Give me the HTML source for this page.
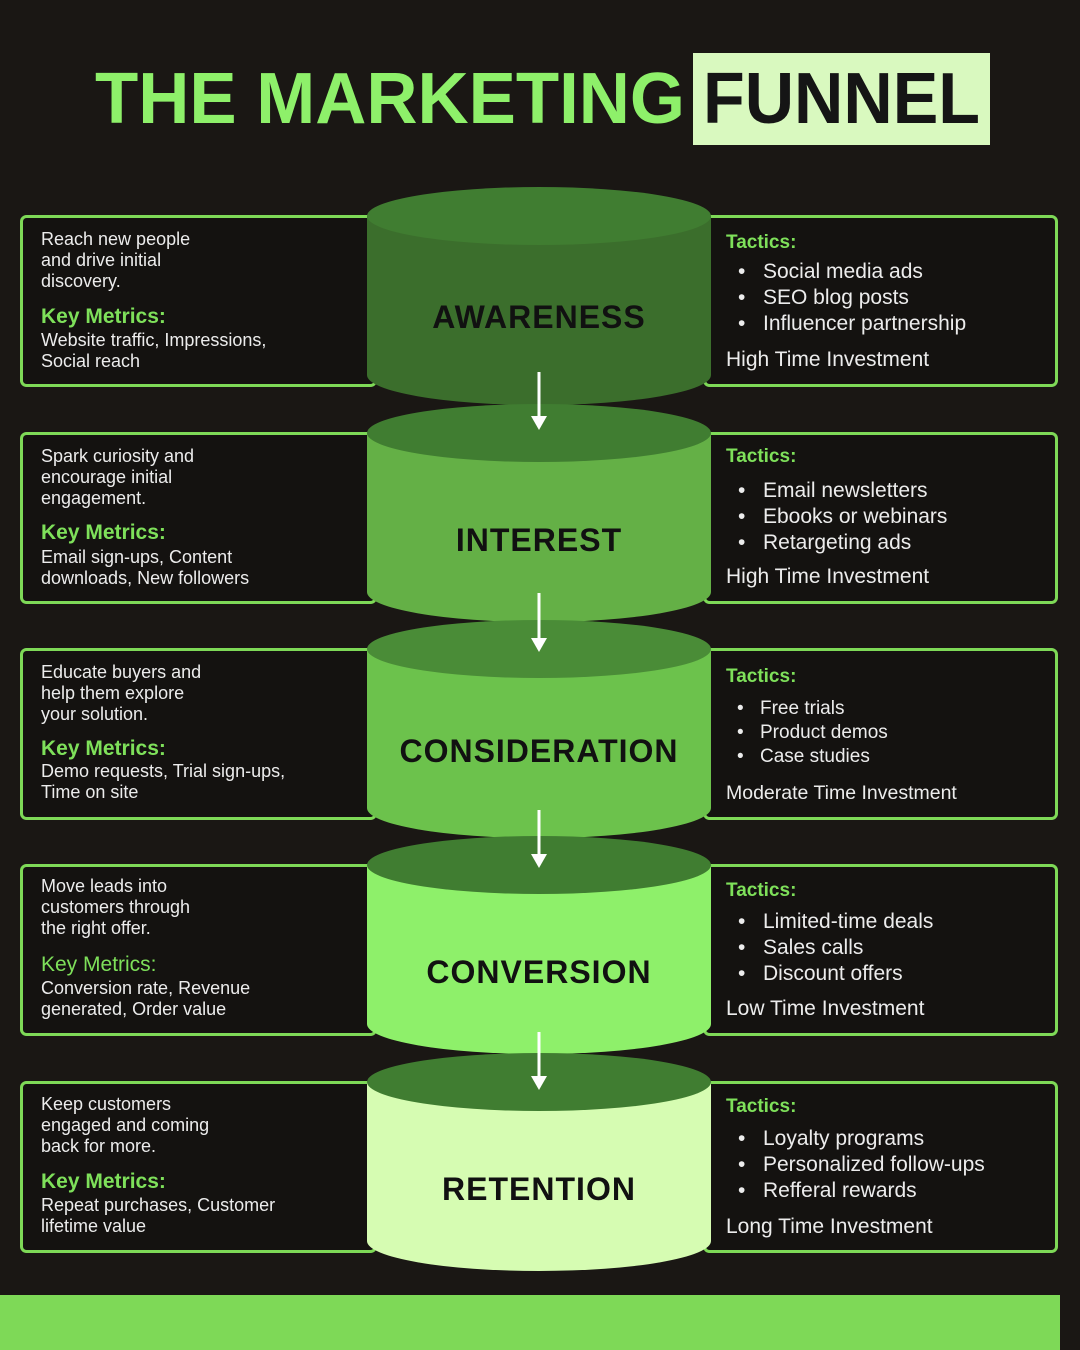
<!DOCTYPE html>
<html><head><meta charset="utf-8"><style>
html,body{margin:0;padding:0;background:#1a1714;}
svg{display:block}
text{font-family:"Liberation Sans",sans-serif}
.lt{fill:#ececec;font-size:18px}
.km{fill:#7ee05a;font-size:21px;font-weight:bold}
.tc{fill:#7ee05a;font-size:19px;font-weight:bold}
.rt{fill:#ececec;font-size:21px}
.lb{fill:#111;font-size:32px;font-weight:bold;letter-spacing:1px}
</style></head><body>
<svg width="1080" height="1350" viewBox="0 0 1080 1350" xmlns="http://www.w3.org/2000/svg">
<rect width="1080" height="1350" fill="#1a1714"/>
<text x="95" y="123" font-size="72" font-weight="bold" fill="#8ef06a" textLength="590" lengthAdjust="spacingAndGlyphs">THE MARKETING</text>
<rect x="693" y="53" width="297" height="92" fill="#d9f9bf"/>
<text x="703" y="123" font-size="72" font-weight="bold" fill="#151515" textLength="277" lengthAdjust="spacingAndGlyphs">FUNNEL</text>
<rect x="0" y="1295" width="1060" height="55" fill="#7ed957"/>

<!-- Stage 1 -->
<g transform="translate(0,0)">
<rect x="21.5" y="216.5" width="354" height="169" rx="5" fill="#141210" stroke="#7ed957" stroke-width="3"/>
<rect x="704.5" y="216.5" width="352" height="169" rx="5" fill="#141210" stroke="#7ed957" stroke-width="3"/>
<path d="M367,216 V375 A172,30 0 0 0 711,375 V216 Z" fill="#3b6e2c"/>
<ellipse cx="539" cy="216" rx="172" ry="29" fill="#407d31"/>
<text x="539" y="328" text-anchor="middle" class="lb">AWARENESS</text>
<text x="41" y="245" class="lt">Reach new people</text>
<text x="41" y="266" class="lt">and drive initial</text>
<text x="41" y="287" class="lt">discovery.</text>
<text x="41" y="323" class="km">Key Metrics:</text>
<text x="41" y="346" class="lt">Website traffic, Impressions,</text>
<text x="41" y="367" class="lt">Social reach</text>
<text x="726" y="248" class="tc">Tactics:</text>
<text x="738" y="278" class="rt">•</text><text x="763" y="278" class="rt">Social media ads</text>
<text x="738" y="304" class="rt">•</text><text x="763" y="304" class="rt">SEO blog posts</text>
<text x="738" y="330" class="rt">•</text><text x="763" y="330" class="rt">Influencer partnership</text>
<text x="726" y="366" class="rt">High Time Investment</text>
</g>

<!-- Stage 2 -->
<g transform="translate(0,217)">
<rect x="21.5" y="216.5" width="354" height="169" rx="5" fill="#141210" stroke="#7ed957" stroke-width="3"/>
<rect x="704.5" y="216.5" width="352" height="169" rx="5" fill="#141210" stroke="#7ed957" stroke-width="3"/>
<path d="M367,216 V375 A172,30 0 0 0 711,375 V216 Z" fill="#64b046"/>
<ellipse cx="539" cy="216" rx="172" ry="29" fill="#407d31"/>
<text x="539" y="334" text-anchor="middle" class="lb">INTEREST</text>
<text x="41" y="245" class="lt">Spark curiosity and</text>
<text x="41" y="266" class="lt">encourage initial</text>
<text x="41" y="287" class="lt">engagement.</text>
<text x="41" y="322" class="km">Key Metrics:</text>
<text x="41" y="346" class="lt">Email sign-ups, Content</text>
<text x="41" y="367" class="lt">downloads, New followers</text>
<text x="726" y="245" class="tc">Tactics:</text>
<text x="738" y="280" class="rt">•</text><text x="763" y="280" class="rt">Email newsletters</text>
<text x="738" y="306" class="rt">•</text><text x="763" y="306" class="rt">Ebooks or webinars</text>
<text x="738" y="332" class="rt">•</text><text x="763" y="332" class="rt">Retargeting ads</text>
<text x="726" y="366" class="rt">High Time Investment</text>
</g>

<!-- Stage 3 -->
<g transform="translate(0,433)">
<rect x="21.5" y="216.5" width="354" height="169" rx="5" fill="#141210" stroke="#7ed957" stroke-width="3"/>
<rect x="704.5" y="216.5" width="352" height="169" rx="5" fill="#141210" stroke="#7ed957" stroke-width="3"/>
<path d="M367,216 V375 A172,30 0 0 0 711,375 V216 Z" fill="#6cc24c"/>
<ellipse cx="539" cy="216" rx="172" ry="29" fill="#4a8c37"/>
<text x="539" y="329" text-anchor="middle" class="lb">CONSIDERATION</text>
<text x="41" y="245" class="lt">Educate buyers and</text>
<text x="41" y="266" class="lt">help them explore</text>
<text x="41" y="287" class="lt">your solution.</text>
<text x="41" y="322" class="km">Key Metrics:</text>
<text x="41" y="344" class="lt">Demo requests, Trial sign-ups,</text>
<text x="41" y="365" class="lt">Time on site</text>
<text x="726" y="249" class="tc">Tactics:</text>
<text x="737" y="281" class="lt" style="font-size:19px">•</text><text x="760" y="281" class="lt" style="font-size:19px">Free trials</text>
<text x="737" y="305" class="lt" style="font-size:19px">•</text><text x="760" y="305" class="lt" style="font-size:19px">Product demos</text>
<text x="737" y="329" class="lt" style="font-size:19px">•</text><text x="760" y="329" class="lt" style="font-size:19px">Case studies</text>
<text x="726" y="366" class="lt" style="font-size:19.5px">Moderate Time Investment</text>
</g>

<!-- Stage 4 -->
<g transform="translate(0,649)">
<rect x="21.5" y="216.5" width="354" height="169" rx="5" fill="#141210" stroke="#7ed957" stroke-width="3"/>
<rect x="704.5" y="216.5" width="352" height="169" rx="5" fill="#141210" stroke="#7ed957" stroke-width="3"/>
<path d="M367,216 V375 A172,30 0 0 0 711,375 V216 Z" fill="#8ef06a"/>
<ellipse cx="539" cy="216" rx="172" ry="29" fill="#407d31"/>
<text x="539" y="334" text-anchor="middle" class="lb">CONVERSION</text>
<text x="41" y="243" class="lt">Move leads into</text>
<text x="41" y="264" class="lt">customers through</text>
<text x="41" y="285" class="lt">the right offer.</text>
<text x="41" y="322" class="km" style="font-weight:normal">Key Metrics:</text>
<text x="41" y="345" class="lt">Conversion rate, Revenue</text>
<text x="41" y="366" class="lt">generated, Order value</text>
<text x="726" y="247" class="tc">Tactics:</text>
<text x="738" y="279" class="rt">•</text><text x="763" y="279" class="rt">Limited-time deals</text>
<text x="738" y="305" class="rt">•</text><text x="763" y="305" class="rt">Sales calls</text>
<text x="738" y="331" class="rt">•</text><text x="763" y="331" class="rt">Discount offers</text>
<text x="726" y="366" class="rt">Low Time Investment</text>
</g>

<!-- Stage 5 -->
<g transform="translate(0,866)">
<rect x="21.5" y="216.5" width="354" height="169" rx="5" fill="#141210" stroke="#7ed957" stroke-width="3"/>
<rect x="704.5" y="216.5" width="352" height="169" rx="5" fill="#141210" stroke="#7ed957" stroke-width="3"/>
<path d="M367,216 V375 A172,30 0 0 0 711,375 V216 Z" fill="#d6fcb2"/>
<ellipse cx="539" cy="216" rx="172" ry="29" fill="#407d31"/>
<text x="539" y="334" text-anchor="middle" class="lb">RETENTION</text>
<text x="41" y="244" class="lt">Keep customers</text>
<text x="41" y="265" class="lt">engaged and coming</text>
<text x="41" y="286" class="lt">back for more.</text>
<text x="41" y="322" class="km">Key Metrics:</text>
<text x="41" y="345" class="lt">Repeat purchases, Customer</text>
<text x="41" y="366" class="lt">lifetime value</text>
<text x="726" y="246" class="tc">Tactics:</text>
<text x="738" y="279" class="rt">•</text><text x="763" y="279" class="rt">Loyalty programs</text>
<text x="738" y="305" class="rt">•</text><text x="763" y="305" class="rt">Personalized follow-ups</text>
<text x="738" y="331" class="rt">•</text><text x="763" y="331" class="rt">Refferal rewards</text>
<text x="726" y="367" class="rt">Long  Time Investment</text>
</g>

<!-- arrows on top -->
<g stroke="#fff" stroke-width="3">
<line x1="539" y1="372" x2="539" y2="418"/>
<line x1="539" y1="593" x2="539" y2="640"/>
<line x1="539" y1="810" x2="539" y2="856"/>
<line x1="539" y1="1032" x2="539" y2="1078"/>
</g>
<g fill="#fff">
<polygon points="531,416 547,416 539,430"/>
<polygon points="531,638 547,638 539,652"/>
<polygon points="531,854 547,854 539,868"/>
<polygon points="531,1076 547,1076 539,1090"/>
</g>
<rect x="1060" y="0" width="20" height="1350" fill="#1a1714"/>
</svg>
</body></html>
